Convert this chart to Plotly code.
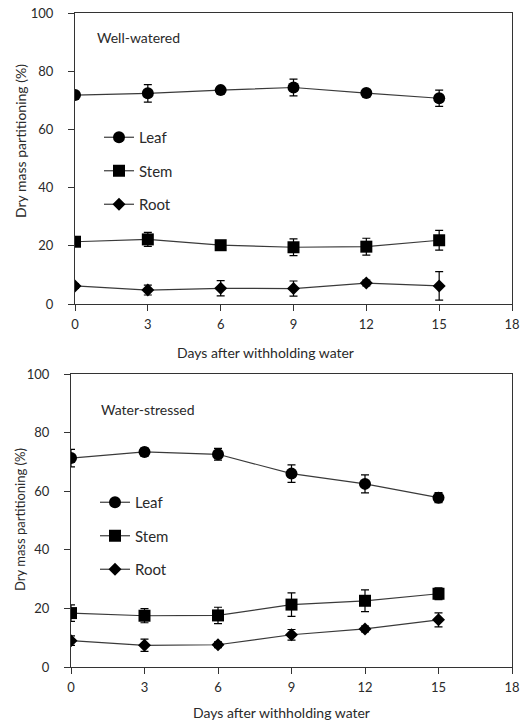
import plotly.graph_objects as go

days = [0, 3, 6, 9, 12, 15]
series_names = ["Leaf", "Stem", "Root"]

# Well-watered
ww_leaf = [71.8, 72.4, 73.5, 74.4, 72.5, 70.7]
ww_leaf_err = [1.0, 3.0, 1.0, 2.9, 1.0, 2.8]
ww_stem = [21.4, 22.2, 20.2, 19.5, 19.7, 21.9]
ww_stem_err = [1.0, 2.4, 1.0, 2.9, 2.9, 3.4]
ww_root = [6.2, 4.8, 5.4, 5.3, 7.2, 6.2]
ww_root_err = [0.8, 1.7, 2.6, 2.6, 1.0, 4.9]

# Water-stressed
ws_leaf = [71.3, 73.4, 72.6, 66.0, 62.5, 57.8]
ws_leaf_err = [3.0, 1.3, 2.0, 3.0, 3.1, 1.7]
ws_stem = [18.4, 17.5, 17.6, 21.3, 22.6, 25.0]
ws_stem_err = [2.8, 2.4, 2.8, 4.0, 3.7, 2.0]
ws_root = [9.0, 7.4, 7.6, 11.0, 13.0, 16.1]
ws_root_err = [1.6, 2.1, 1.0, 1.8, 1.0, 2.4]

x_ticks = [0, 3, 6, 9, 12, 15, 18]
y_ticks = [0, 20, 40, 60, 80, 100]

x_title = "Days after withholding water"
y_title = "Dry mass partitioning (%)"
panel_labels = ["Well-watered", "Water-stressed"]

FONT = "Lato, Liberation Sans, sans-serif"
TXT = "#2a2a2a"
symbols = {"Leaf": ("circle", 12), "Stem": ("square", 12), "Root": ("diamond", 10)}

W, H = 523, 721


def px(v):
    return v / W


def py(v):
    return 1 - v / H


fig = go.Figure()

panels = [
    ("x", "y", "legend", [ww_leaf, ww_stem, ww_root], [ww_leaf_err, ww_stem_err, ww_root_err]),
    ("x2", "y2", "legend2", [ws_leaf, ws_stem, ws_root], [ws_leaf_err, ws_stem_err, ws_root_err]),
]
for xa, ya, lg, vals, errs in panels:
    for name, v, e in zip(series_names, vals, errs):
        sym, sz = symbols[name]
        fig.add_trace(go.Scatter(
            x=days, y=v, name=name, xaxis=xa, yaxis=ya, legend=lg,
            legendgroup=name + xa,
            mode="lines+markers",
            line=dict(color="#3a3a3a", width=1.2),
            marker=dict(symbol=sym, size=sz, color="black"),
            error_y=dict(type="data", array=e, visible=True, color="black",
                         thickness=1.2, width=4),
        ))

axis_common = dict(
    showline=True, linecolor="#333", linewidth=1, mirror=True,
    ticks="outside", ticklen=6, tickcolor="#333",
    showgrid=False, zeroline=False, automargin=False,
    tickfont=dict(family=FONT, size=13, color=TXT),
)
xaxis_common = dict(axis_common, range=[0, 18], tickvals=x_ticks, ticklabelstandoff=2)
yaxis_common = dict(axis_common, range=[0, 100], tickvals=y_ticks, ticklabelstandoff=12)

fig.update_layout(
    width=W, height=H,
    margin=dict(l=0, r=0, t=0, b=0),
    paper_bgcolor="white", plot_bgcolor="white",
    font=dict(family=FONT, color=TXT, size=14),
    showlegend=True,
    xaxis=dict(domain=[px(75), px(512)], anchor="y", **xaxis_common),
    yaxis=dict(domain=[py(304), py(13)], anchor="x", **yaxis_common),
    xaxis2=dict(domain=[px(71), px(512)], anchor="y2", **xaxis_common),
    yaxis2=dict(domain=[py(667), py(374)], anchor="x2", **yaxis_common),
    legend=dict(x=px(99), y=py(121), xanchor="left", yanchor="top",
                bgcolor="rgba(0,0,0,0)", font=dict(size=15, color=TXT),
                tracegroupgap=11, itemwidth=30),
    legend2=dict(x=px(95), y=py(486), xanchor="left", yanchor="top",
                 bgcolor="rgba(0,0,0,0)", font=dict(size=15, color=TXT),
                 tracegroupgap=11, itemwidth=30),
    annotations=[
        dict(text=panel_labels[0], xref="paper", yref="paper", x=px(95), y=py(38),
             xanchor="left", yanchor="middle", showarrow=False, font=dict(size=14, color=TXT)),
        dict(text=panel_labels[1], xref="paper", yref="paper", x=px(99), y=py(409),
             xanchor="left", yanchor="middle", showarrow=False, font=dict(size=14, color=TXT)),
        dict(text=x_title, xref="paper", yref="paper", x=px(265), y=py(352),
             xanchor="center", yanchor="middle", showarrow=False, font=dict(size=14, color=TXT)),
        dict(text=x_title, xref="paper", yref="paper", x=px(281), y=py(712),
             xanchor="center", yanchor="middle", showarrow=False, font=dict(size=14, color=TXT)),
        dict(text=y_title, xref="paper", yref="paper", x=px(20), y=py(141), textangle=-90,
             xanchor="center", yanchor="middle", showarrow=False, font=dict(size=14, color=TXT)),
        dict(text=y_title, xref="paper", yref="paper", x=px(20), y=py(520), textangle=-90,
             xanchor="center", yanchor="middle", showarrow=False, font=dict(size=13, color=TXT)),
    ],
)

fig.write_html(
    "out.html",
    config={"displayModeBar": False},
    post_script="document.body.style.margin='0';document.documentElement.style.overflow='hidden';",
)
